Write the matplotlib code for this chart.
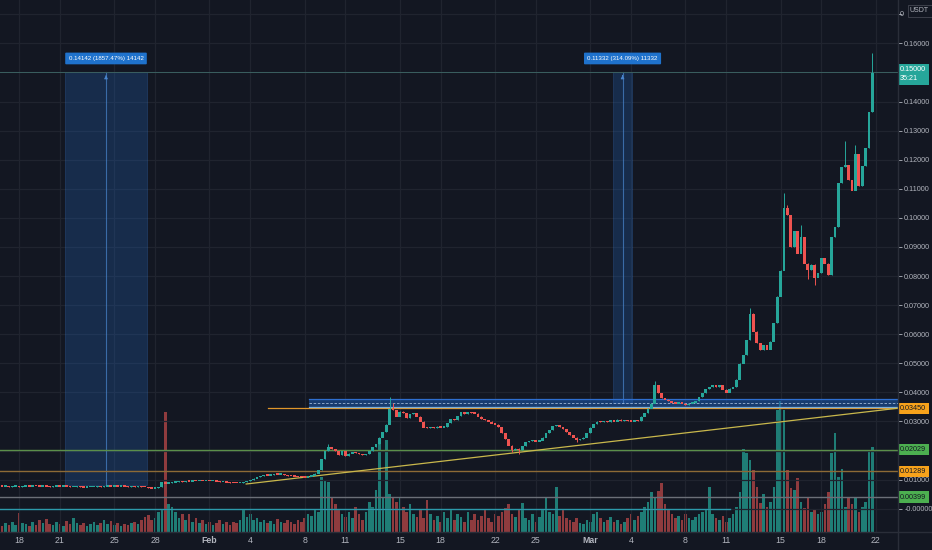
import numpy as np
import matplotlib
matplotlib.use('Agg')
import matplotlib.pyplot as plt
from matplotlib.patches import Rectangle
import matplotlib.transforms as mtransforms

plt.rcParams['font.family'] = ['Liberation Sans', 'DejaVu Sans']

BG = '#131722'
UP = '#26a69a'
DOWN = '#ef5350'
GRID = '#20242f'
TXT = '#b2b5be'

# 6h candles, day 0 = Jan 18
first_day = -1.5
step = 0.25

closes = [
    0.0079, 0.0077, 0.0078, 0.0076,
    0.0077, 0.0078, 0.0076, 0.0077,
    0.0078, 0.0077, 0.0079, 0.0078,
    0.0077, 0.0078, 0.0077, 0.0076,
    0.0077, 0.0078, 0.0077, 0.0078,
    0.0077, 0.0075, 0.0076, 0.0077,
    0.0074, 0.0073, 0.0075, 0.0076,
    0.0076, 0.0077, 0.0076, 0.0077,
    0.0078, 0.0077, 0.0078, 0.0077,
    0.0078, 0.0077, 0.0076, 0.0077,
    0.0076, 0.0077, 0.0076, 0.0075,
    0.0072, 0.0070, 0.0072, 0.0074,
    0.0092, 0.0087, 0.0089, 0.0091,
    0.0092, 0.0094, 0.0093, 0.0095,
    0.0094, 0.0096, 0.0095, 0.0097,
    0.0096, 0.0097, 0.0095, 0.0096,
    0.0094, 0.0092, 0.0093, 0.0091,
    0.0090, 0.0089, 0.0088, 0.0090,
    0.0092, 0.0096, 0.0100, 0.0104,
    0.0109, 0.0113, 0.0116, 0.0115,
    0.0117, 0.0119, 0.0118, 0.0120,
    0.0117, 0.0114, 0.0112, 0.0111,
    0.0110, 0.0109, 0.0108, 0.0111,
    0.0115, 0.0122, 0.0133, 0.0172,
    0.0200, 0.0213, 0.0205, 0.0200,
    0.0186, 0.0198, 0.0182, 0.0190,
    0.0196, 0.0192, 0.0189, 0.0186,
    0.0188, 0.0200, 0.0212, 0.0222,
    0.0245, 0.0265, 0.0290, 0.0345,
    0.0340, 0.0318, 0.0335, 0.0330,
    0.0312, 0.0325, 0.0330, 0.0318,
    0.0300, 0.0280, 0.0277, 0.0282,
    0.0278, 0.0283, 0.0280, 0.0282,
    0.0295, 0.0310, 0.0306, 0.0320,
    0.0334, 0.0327, 0.0333, 0.0330,
    0.0328, 0.0318, 0.0310, 0.0305,
    0.0300, 0.0294, 0.0290, 0.0282,
    0.0262, 0.0240, 0.0218, 0.0203,
    0.0208, 0.0202, 0.0215, 0.0230,
    0.0233, 0.0236, 0.0232, 0.0235,
    0.0245, 0.0260, 0.0270, 0.0285,
    0.0288, 0.0282, 0.0275, 0.0265,
    0.0255, 0.0245, 0.0237, 0.0240,
    0.0245, 0.0262, 0.0280, 0.0292,
    0.0300, 0.0298, 0.0302, 0.0299,
    0.0305, 0.0300, 0.0307, 0.0303,
    0.0306, 0.0302, 0.0300, 0.0304,
    0.0302, 0.0318, 0.0330, 0.0345,
    0.0362, 0.0425, 0.0398, 0.0382,
    0.0376, 0.0370, 0.0365, 0.0362,
    0.0366, 0.0362, 0.0358, 0.0362,
    0.0365, 0.0370, 0.0384, 0.0398,
    0.0412, 0.0420, 0.0425, 0.0418,
    0.0425, 0.0410, 0.0400, 0.0414,
    0.0418, 0.0445, 0.0500, 0.0530,
    0.0580, 0.0672, 0.0610, 0.0570,
    0.0546, 0.0563, 0.0548, 0.0575,
    0.0640, 0.0730, 0.0820, 0.1035,
    0.1010, 0.0900, 0.0955, 0.0878,
    0.0935, 0.0844, 0.0822, 0.0840,
    0.0795, 0.0810, 0.0862, 0.0844,
    0.0805, 0.0935, 0.0970, 0.1120,
    0.1176, 0.1182, 0.1130, 0.1095,
    0.1220, 0.1110, 0.1180, 0.1240,
    0.1365, 0.1500,
]

# wick extremes for the candles where they stick out
highs_extra = {97: 0.0224, 115: 0.0385, 116: 0.0365, 193: 0.0438, 221: 0.0690,
               231: 0.1085, 232: 0.1045, 236: 0.0975, 249: 0.1265, 252: 0.1250,
               257: 0.1567}
lows_extra = {151: 0.0196, 153: 0.0188, 170: 0.0230, 238: 0.0790, 240: 0.0768}

# volume in pixel-ish units (bottom pane)
volume = [
    8, 6, 9, 7,
    10, 7, 19, 9,
    8, 6, 10, 7,
    12, 9, 13, 8,
    7, 10, 8, 6,
    11, 8, 14, 9,
    7, 9, 6, 8,
    10, 7, 9, 12,
    8, 11, 7, 9,
    6, 8, 7, 9,
    10, 8, 12, 15,
    17, 12, 14, 20,
    22, 120, 28, 25,
    20, 14, 18, 12,
    18, 10, 14, 9,
    12, 8, 10, 7,
    9, 12, 8, 10,
    7, 10, 9, 12,
    23, 15, 18, 12,
    14, 10, 12, 9,
    11, 8, 13, 10,
    9, 12, 10, 8,
    12, 10, 14, 18,
    16, 23, 20, 55,
    52, 50, 35, 28,
    22, 18, 15, 20,
    14, 25, 18, 12,
    20, 30, 25, 42,
    90, 35, 92, 38,
    34, 30, 35, 25,
    20, 28, 18, 15,
    22, 14, 32, 18,
    12, 16, 10, 20,
    14, 22, 12, 18,
    15, 10, 20, 12,
    18, 12, 16, 22,
    14, 10, 18, 16,
    20, 24, 28, 18,
    15, 22, 29, 14,
    12, 18, 10, 15,
    22, 34, 20, 18,
    45, 16, 23, 14,
    12, 10, 14, 9,
    8, 12, 10, 18,
    20, 14, 10, 12,
    15, 10, 12, 8,
    10, 14, 18, 12,
    16, 20, 25, 30,
    40, 34, 41, 49,
    28, 22, 18, 14,
    16, 12, 18, 14,
    12, 15, 18, 20,
    22, 45, 18, 14,
    12, 16, 10, 14,
    18, 25, 40, 83,
    79, 72, 62, 45,
    29, 38, 25, 30,
    45, 122, 131, 122,
    62, 44, 42, 54,
    30, 24, 35, 20,
    22, 18, 20, 28,
    40, 79, 99, 55,
    63, 25, 35, 28,
    35, 20, 25, 30,
    82, 85,
]

tick_days = [0, 3, 7, 10, 14, 17, 21, 24, 28, 31, 35, 38, 42, 45, 49, 52, 56, 59, 63]
tick_labels = ['18', '21', '25', '28', 'Feb', '4', '8', '11', '15', '18', '22', '25',
               'Mar', '4', '8', '11', '15', '18', '22']

# 0.17 is hidden behind the USDT tag, only its first digit shows
price_ticks = [0.17, 0.16, 0.14, 0.13, 0.12, 0.11, 0.10, 0.09, 0.08, 0.07, 0.06, 0.05,
               0.04, 0.03, 0.01, 0.0]
price_tick_labels = ['', '0.16000', '0.14000', '0.13000', '0.12000', '0.11000',
                     '0.10000', '0.09000', '0.08000', '0.07000', '0.06000', '0.05000',
                     '0.04000', '0.03000', '0.01000', '-0.00000']

level_values = [0.03450, 0.02029, 0.01289, 0.00399]
level_texts = ['0.03450', '0.02029', '0.01289', '0.00399']
level_box_colors = ['#f7a21b', '#4caf50', '#f7a21b', '#4caf50']
level_line_colors = ['#e0962a', '#5b8f4a', '#8d6a36', '#6b6f78']

# measured ranges (day start, day end, price bottom, price top, label)
ranges = [
    (3.38, 9.41, 0.0080, 0.15, '0.14142 (1857.47%) 14142'),
    (43.68, 45.07, 0.0362, 0.15, '0.11332 (314.09%) 11332'),
]

# trend line and support box
trend_days = [16.7, 64.7]
trend_prices = [0.0085, 0.0346]
zone_start = 21.3
zone_low, zone_high = 0.0350, 0.0377

last_price = 0.15

fig = plt.figure(figsize=(9.32, 5.5), dpi=100, facecolor=BG)
ax = fig.add_axes([0, 18 / 550, 898 / 932, 532 / 550])
axv = ax.twinx()
ax.set_zorder(axv.get_zorder() + 1)
ax.patch.set_visible(False)
axv.set_facecolor(BG)

days = first_day + step * np.arange(len(closes))
closes_arr = np.array(closes)
opens = np.concatenate([[closes[0]], closes_arr[:-1]])
up = closes_arr >= opens
cols = np.where(up, UP, DOWN)

# volume pane
vol_cols = np.where(up, '#1f7d76', '#8f3b3e')
axv.bar(days, volume, width=0.19, color=vol_cols, linewidth=0)
axv.set_ylim(0, 532)
axv.set_yticks([])
for s in axv.spines.values():
    s.set_visible(False)

# candles
hi = np.maximum(opens, closes_arr)
lo = np.minimum(opens, closes_arr)
wick_hi = hi.copy()
wick_lo = lo.copy()
for i, v in highs_extra.items():
    wick_hi[i] = v
for i, v in lows_extra.items():
    wick_lo[i] = v
ax.vlines(days, wick_lo, wick_hi, colors=cols, linewidth=0.7, zorder=4)
ax.bar(days, np.maximum(hi - lo, 0.00045), bottom=lo - 0.0001, width=0.21, color=cols,
       linewidth=0, zorder=5)

ax.set_xlim(-1.4, 64.63)
ax.set_ylim(-0.0080, 0.1749)

# grid
for d in tick_days:
    ax.axvline(d, color=GRID, lw=0.9, zorder=0)
for p in np.arange(0.0, 0.171, 0.01):
    ax.axhline(p, color=GRID, lw=0.9, zorder=0)

# horizontal levels
ax.axhline(0.0, xmax=(52.3 + 1.4) / 66.03, color='#2c9aab', lw=1.0, zorder=3)
ax.plot([18.3, 64.63], [level_values[0]] * 2, color=level_line_colors[0], lw=0.9, zorder=3)
for v, c in zip(level_values[1:], level_line_colors[1:]):
    ax.axhline(v, color=c, lw=1.0, zorder=3)
ax.axhline(last_price, color='#3a5f60', lw=0.7, zorder=3)

# support zone
ax.add_patch(Rectangle((zone_start, zone_low), 64.63 - zone_start, zone_high - zone_low,
                       facecolor='#1d5bb0', alpha=0.55, edgecolor='none', zorder=2))
ax.plot([zone_start, 64.63], [zone_high] * 2, color='#2f6fd0', lw=0.9, zorder=3)
ax.plot([zone_start, 64.63], [zone_low] * 2, color='#7fb0d8', lw=0.9, zorder=3)
ax.plot([zone_start, 64.63], [(zone_low + zone_high) / 2] * 2, color='#9fb8d8',
        lw=0.6, ls=(0, (3, 2)), zorder=3)

# trend line
ax.plot(trend_days, trend_prices, color='#c9b84c', lw=0.9, zorder=3)

# date range boxes
for d0, d1, p0, p1, txt in ranges:
    ax.add_patch(Rectangle((d0, p0), d1 - d0, p1 - p0, facecolor='#2264b8', alpha=0.28,
                           edgecolor='#3a78c8', linewidth=0.6, zorder=1))
    mid = (d0 + d1) / 2
    ax.plot([mid, mid], [p0, p1], color='#4a86cf', lw=0.8, alpha=0.7, zorder=2)
    ax.annotate('', xy=(mid, p1), xytext=(mid, p1 - 0.002),
                arrowprops=dict(arrowstyle='-|>', color='#4a86cf', lw=0.6,
                                mutation_scale=5), zorder=2)
    ax.text(mid, 0.1548, txt, ha='center', va='center', fontsize=4.4, color='white',
            bbox=dict(boxstyle='round,pad=0.55,rounding_size=0.15', fc='#1f72cc', ec='none'),
            zorder=6)

# axes styling
for s in ax.spines.values():
    s.set_visible(False)
ax.yaxis.tick_right()
ax.set_yticks(price_ticks)
ax.set_yticklabels(price_tick_labels)
ax.tick_params(axis='y', colors=TXT, labelsize=5.2, length=3, width=0.6, pad=1.5,
               direction='out')
ax.set_xticks(tick_days)
ax.set_xticklabels(tick_labels)
ax.tick_params(axis='x', colors=TXT, labelsize=6.3, length=0, pad=3)
for lbl in ax.get_xticklabels():
    if lbl.get_text() in ('Feb', 'Mar'):
        lbl.set_fontweight('bold')

# separators of the price and time scales
fig.add_artist(plt.Line2D([898 / 932, 898 / 932], [0, 1], color='#2a2e39', lw=1.0))
fig.add_artist(plt.Line2D([0, 1], [18 / 550, 18 / 550], color='#2a2e39', lw=1.0))

# level labels on the price scale
tr = mtransforms.blended_transform_factory(ax.transAxes, ax.transData)
for v, t, c in zip(level_values, level_texts, level_box_colors):
    ax.text(1.0025, v, t, transform=tr, ha='left', va='center', fontsize=5.2,
            color='#131722', clip_on=False, zorder=10,
            bbox=dict(boxstyle='square,pad=0.3', fc=c, ec='none'))
ax.text(1.0025, 0.1494, '0.15000\n35:21', transform=tr, ha='left', va='center',
        fontsize=5.2, color='white', linespacing=1.4, clip_on=False, zorder=10,
        bbox=dict(boxstyle='square,pad=0.35', fc=UP, ec='none'))

# currency tag, with the first digit of the hidden 0.17000 label before it
ax.text(1.0025, 0.17, '0', transform=tr, ha='left', va='center', fontsize=5.2,
        color=TXT, clip_on=False)
fig.text(910 / 932, 1 - 11 / 550, 'USDT', fontsize=5, color=TXT, ha='left', va='center',
         zorder=20, bbox=dict(boxstyle='square,pad=0.35', fc=BG, ec='#434651', lw=0.6))

fig.savefig('out.png', dpi=100, facecolor=BG)
